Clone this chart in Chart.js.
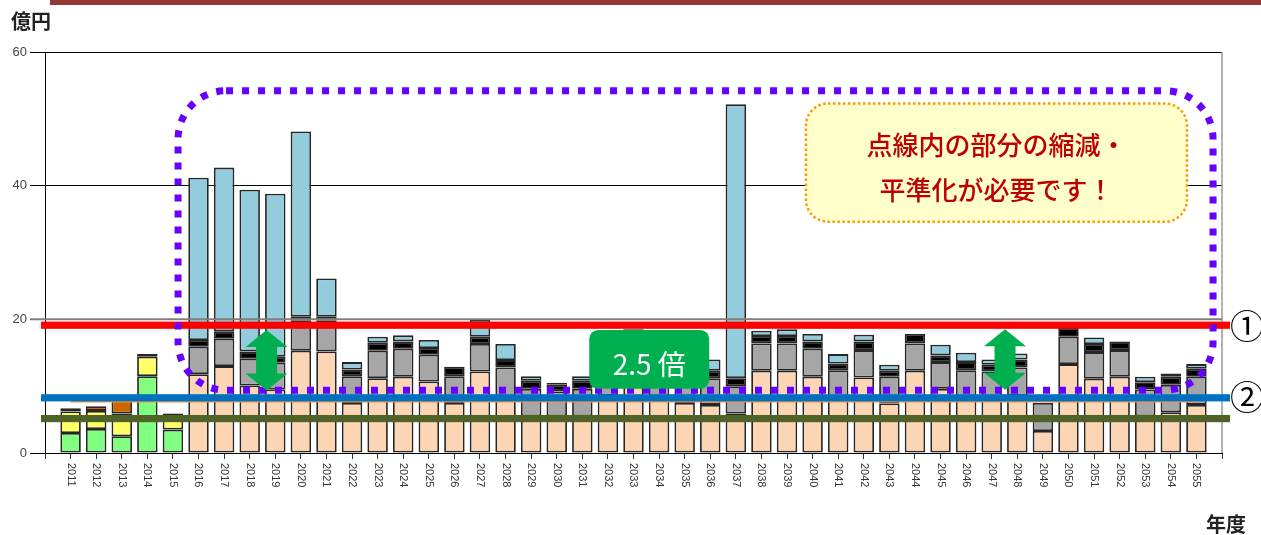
<!DOCTYPE html>
<html>
<head>
<meta charset="utf-8">
<script src="https://cdn.jsdelivr.net/npm/chart.js@4/dist/chart.umd.min.js"></script>
<style>
  html, body { margin: 0; padding: 0; background: #fff; }
  #wrap { position: relative; width: 1261px; height: 535px; }
</style>
</head>
<body>
<div id="wrap"><canvas id="myChart01"></canvas></div>
<script>
// 年度
const years = [2011, 2012, 2013, 2014, 2015, 2016, 2017, 2018, 2019, 2020,
               2021, 2022, 2023, 2024, 2025, 2026, 2027, 2028, 2029, 2030,
               2031, 2032, 2033, 2034, 2035, 2036, 2037, 2038, 2039, 2040,
               2041, 2042, 2043, 2044, 2045, 2046, 2047, 2048, 2049, 2050,
               2051, 2052, 2053, 2054, 2055];

// 億円
const greenVals  = [3.0, 3.6, 2.5, 11.5, 3.5, null, null, null, null, null,
                    null, null, null, null, null, null, null, null, null, null,
                    null, null, null, null, null, null, null, null, null, null,
                    null, null, null, null, null, null, null, null, null, null,
                    null, null, null, null, null];
const yellowVals = [3.2, 2.7, 3.4, 2.9, 2.1, null, null, null, null, null,
                    null, null, null, null, null, null, null, null, null, null,
                    null, null, null, null, null, null, null, null, null, null,
                    null, null, null, null, null, null, null, null, null, null,
                    null, null, null, null, null];
const orangeVals = [0.5, 0.7, 2.6, 0.4, 0.3, null, null, null, null, null,
                    null, null, null, null, null, null, null, null, null, null,
                    null, null, null, null, null, null, null, null, null, null,
                    null, null, null, null, null, null, null, null, null, null,
                    null, null, null, null, null];
const peachVals  = [null, null, null, null, null, 11.8, 13.0, 10.1, 9.5, 15.3,
                    15.2, 7.5, 11.2, 11.4, 10.7, 7.5, 12.2, 8.5, 5.5, 5.5,
                    5.5, 8.6, 12.3, 8.5, 7.5, 7.2, 5.9, 12.3, 12.3, 11.4,
                    8.4, 11.3, 7.4, 12.3, 9.6, 8.4, 8.2, 8.6, 3.3, 13.3,
                    11.1, 11.4, 5.5, 6.1, 7.2];
const grayVals   = [null, null, null, null, null, 4.1, 4.1, 4.0, 4.0, 4.5,
                    4.6, 4.0, 4.1, 4.2, 4.0, 4.0, 4.1, 4.3, 4.1, 3.7,
                    4.1, 4.1, 4.1, 4.0, 4.0, 4.0, 4.1, 4.1, 4.1, 4.2,
                    4.0, 4.1, 4.0, 4.1, 4.0, 4.0, 4.0, 4.2, 4.2, 4.1,
                    4.0, 4.0, 4.0, 4.1, 4.2];
const blackVals  = [null, null, null, null, null, 1.0, 1.1, 1.1, 0.9, 0.6,
                    0.6, 1.0, 1.2, 1.1, 1.0, 1.4, 1.1, 1.1, 1.2, 1.0,
                    1.2, 1.1, 1.1, 1.0, 1.1, 1.1, 1.2, 1.1, 1.1, 1.1,
                    1.0, 1.3, 0.9, 1.4, 1.0, 1.2, 1.0, 1.2, null, 1.3,
                    1.2, 1.3, 1.1, 1.2, 1.2];
const blueVals   = [null, null, null, null, null, 24.3, 24.5, 24.2, 24.4, 27.7,
                    5.7, 1.1, 0.9, 0.9, 1.2, null, 2.5, 2.4, 0.7, 0.3,
                    0.7, 0.9, 1.0, 0.8, 0.8, 1.7, 41.0, 0.8, 1.0, 1.1,
                    1.4, 1.0, 0.9, null, 1.6, 1.4, 0.8, 0.9, null, null,
                    1.0, null, 0.8, 0.5, 0.7];

// 平均線
const avgYears = [2011, 2055];
const avgVals = [7.7, 7.7];

// 水準線 (①, ②, その下)
const levelVals = [19.12, 8.26, 5.15];
const levelColors = ['#FF0000', '#0070C0', '#4F6228'];
const gridTop = 20;

const yTicks = [0, 20, 40, 60];

const toXY = arr => arr.map((v, i) => ({ x: years[i], y: v }));

function barSet(label, vals, color) {
    return {
        label: label,
        data: toXY(vals),
        backgroundColor: color,
        borderColor: '#262626',
        borderWidth: 1.8,
        borderSkipped: false,
        barPercentage: 0.8,
        categoryPercentage: 1.0,
        order: 2
    };
}

function roundPath(ctx, x, y, w, h, r) {
    ctx.beginPath();
    ctx.moveTo(x + r, y);
    ctx.arcTo(x + w, y, x + w, y + h, r);
    ctx.arcTo(x + w, y + h, x, y + h, r);
    ctx.arcTo(x, y + h, x, y, r);
    ctx.arcTo(x, y, x + w, y, r);
    ctx.closePath();
}

function arrow(ctx, cx, y1, y2) {
    const hw = 21, sw = 10.5, hh = 17;
    ctx.beginPath();
    ctx.moveTo(cx, y1);
    ctx.lineTo(cx + hw, y1 + hh);
    ctx.lineTo(cx + sw, y1 + hh);
    ctx.lineTo(cx + sw, y2 - hh);
    ctx.lineTo(cx + hw, y2 - hh);
    ctx.lineTo(cx, y2);
    ctx.lineTo(cx - hw, y2 - hh);
    ctx.lineTo(cx - sw, y2 - hh);
    ctx.lineTo(cx - sw, y1 + hh);
    ctx.lineTo(cx - hw, y1 + hh);
    ctx.closePath();
    ctx.fillStyle = '#00B050';
    ctx.fill();
}

const overlay = {
    id: 'overlay',
    beforeDraw(chart) {
        const ctx = chart.ctx;
        ctx.save();
        ctx.fillStyle = '#953735';
        ctx.fillRect(50, 0, chart.width - 50, 5);
        ctx.restore();
    },
    afterDatasetsDraw(chart) {
        const ctx = chart.ctx;
        const xs = chart.scales.x, ys = chart.scales.y;
        const area = chart.chartArea;
        ctx.save();

        // right border
        ctx.strokeStyle = '#999';
        ctx.lineWidth = 1.5;
        ctx.beginPath();
        ctx.moveTo(area.right, area.top);
        ctx.lineTo(area.right, area.bottom);
        ctx.stroke();

        // 20 line
        let gy = ys.getPixelForValue(gridTop);
        ctx.strokeStyle = '#7F7F7F';
        ctx.lineWidth = 2;
        ctx.beginPath();
        ctx.moveTo(area.left - 15, gy);
        ctx.lineTo(area.right, gy);
        ctx.stroke();

        // level lines
        levelVals.forEach((v, i) => {
            const py = ys.getPixelForValue(v);
            ctx.fillStyle = levelColors[i];
            ctx.fillRect(area.left - 4, py - 3.6, area.width + 12, 7.2);
        });

        // dotted region
        const l = xs.getPixelForValue(2015.2), r = xs.getPixelForValue(2055.65);
        const t = ys.getPixelForValue(54.2), b = ys.getPixelForValue(9.4);
        ctx.setLineDash([7, 9]);
        ctx.lineWidth = 7;
        ctx.strokeStyle = '#6600FF';
        roundPath(ctx, l, t, r - l, b - t, 48);
        ctx.stroke();
        ctx.setLineDash([]);

        // arrows
        arrow(ctx, xs.getPixelForValue(2018.66), ys.getPixelForValue(18.4), ys.getPixelForValue(9.35));
        arrow(ctx, xs.getPixelForValue(2047.52), ys.getPixelForValue(18.5), ys.getPixelForValue(9.45));

        // 2.5倍 box
        const bl = xs.getPixelForValue(2031.27), br = xs.getPixelForValue(2035.96);
        const bt = ys.getPixelForValue(18.42), bb = ys.getPixelForValue(9.6);
        roundPath(ctx, bl, bt, br - bl, bb - bt, 9);
        ctx.fillStyle = '#00B050';
        ctx.fill();
        ctx.fillStyle = '#fff';
        ctx.font = '28px "Noto Sans CJK JP"';
        ctx.textAlign = 'center';
        ctx.textBaseline = 'middle';
        ctx.fillText('2.5 倍', (bl + br) / 2, bt + 34);

        // comment box
        const cl = xs.getPixelForValue(2039.74), cr = xs.getPixelForValue(2054.63);
        const ct = ys.getPixelForValue(52.3), cb = ys.getPixelForValue(34.6);
        roundPath(ctx, cl, ct, cr - cl, cb - ct, 22);
        ctx.fillStyle = '#FFFFCC';
        ctx.fill();
        ctx.setLineDash([2.5, 2.5]);
        ctx.lineWidth = 2.5;
        ctx.strokeStyle = '#FF9900';
        ctx.stroke();
        ctx.setLineDash([]);
        ctx.fillStyle = '#C00000';
        ctx.font = '500 26px "Noto Sans CJK JP"';
        ctx.fillText('点線内の部分の縮減・', (cl + cr) / 2, ct + 42);
        ctx.fillText('平準化が必要です！', (cl + cr) / 2, ct + 87);

        // circled numbers
        ctx.fillStyle = '#000';
        ctx.font = '34px "Noto Sans CJK JP"';
        ctx.fillText('①', area.right + 25, ys.getPixelForValue(levelVals[0]) + 1);
        ctx.fillText('②', area.right + 25, ys.getPixelForValue(levelVals[1]) - 1);
        ctx.restore();
    },
    afterDraw(chart) {
        const ctx = chart.ctx;
        const xs = chart.scales.x;
        const area = chart.chartArea;
        ctx.save();
        ctx.fillStyle = '#333';
        ctx.font = '11px "Liberation Sans"';
        ctx.textAlign = 'left';
        ctx.textBaseline = 'middle';
        years.forEach(yr => {
            ctx.save();
            ctx.translate(xs.getPixelForValue(yr), area.bottom + 10);
            ctx.rotate(Math.PI / 2);
            ctx.fillText(String(yr), 0, 0);
            ctx.restore();
        });
        ctx.fillStyle = '#222';
        ctx.font = 'bold 20px "Noto Sans CJK JP"';
        ctx.textAlign = 'left';
        ctx.fillText('億円', 11, 21);
        ctx.fillText('年度', 1206, 524);
        ctx.restore();
    }
};

const ctx01 = document.getElementById('myChart01').getContext('2d');
const myChart01 = new Chart(ctx01, {
    type: 'bar',
    data: {
        datasets: [
            barSet('green', greenVals, '#80FF80'),
            barSet('yellow', yellowVals, '#FFFF66'),
            barSet('orange', orangeVals, '#CC6600'),
            barSet('peach', peachVals, '#FCD5B5'),
            barSet('gray', grayVals, '#A6A6A6'),
            barSet('black', blackVals, '#000000'),
            barSet('blue', blueVals, '#93CDDD'),
            {
                label: 'avg',
                type: 'line',
                data: avgYears.map((x, i) => ({ x: x, y: avgVals[i] })),
                borderColor: '#F79646',
                borderWidth: 2,
                pointRadius: 0,
                order: 1
            }
        ]
    },
    options: {
        responsive: true,
        maintainAspectRatio: false,
        animation: false,
        layout: { padding: { top: 52, right: 39, bottom: 0, left: 0 } },
        scales: {
            x: {
                type: 'linear',
                offset: false,
                stacked: true,
                min: 2010,
                max: 2056,
                ticks: { display: false, stepSize: 1, autoSkip: false },
                grid: { offset: false, drawOnChartArea: false, drawTicks: true, tickLength: 6, color: '#333' },
                border: { display: true, color: '#000', width: 1 },
                afterFit: s => { s.height = 82; }
            },
            y: {
                stacked: true,
                min: 0,
                max: 60,
                afterBuildTicks: s => { s.ticks = yTicks.map(v => ({ value: v })); },
                ticks: { color: '#444', padding: 3, font: { size: 13, family: "'Liberation Sans'" } },
                grid: { color: '#000', lineWidth: 1, tickLength: 15 },
                border: { display: true, color: '#000', width: 1 },
                afterFit: s => { s.width = 45; }
            }
        },
        plugins: {
            legend: { display: false },
            tooltip: { enabled: false }
        }
    },
    plugins: [overlay]
});
</script>
</body>
</html>
